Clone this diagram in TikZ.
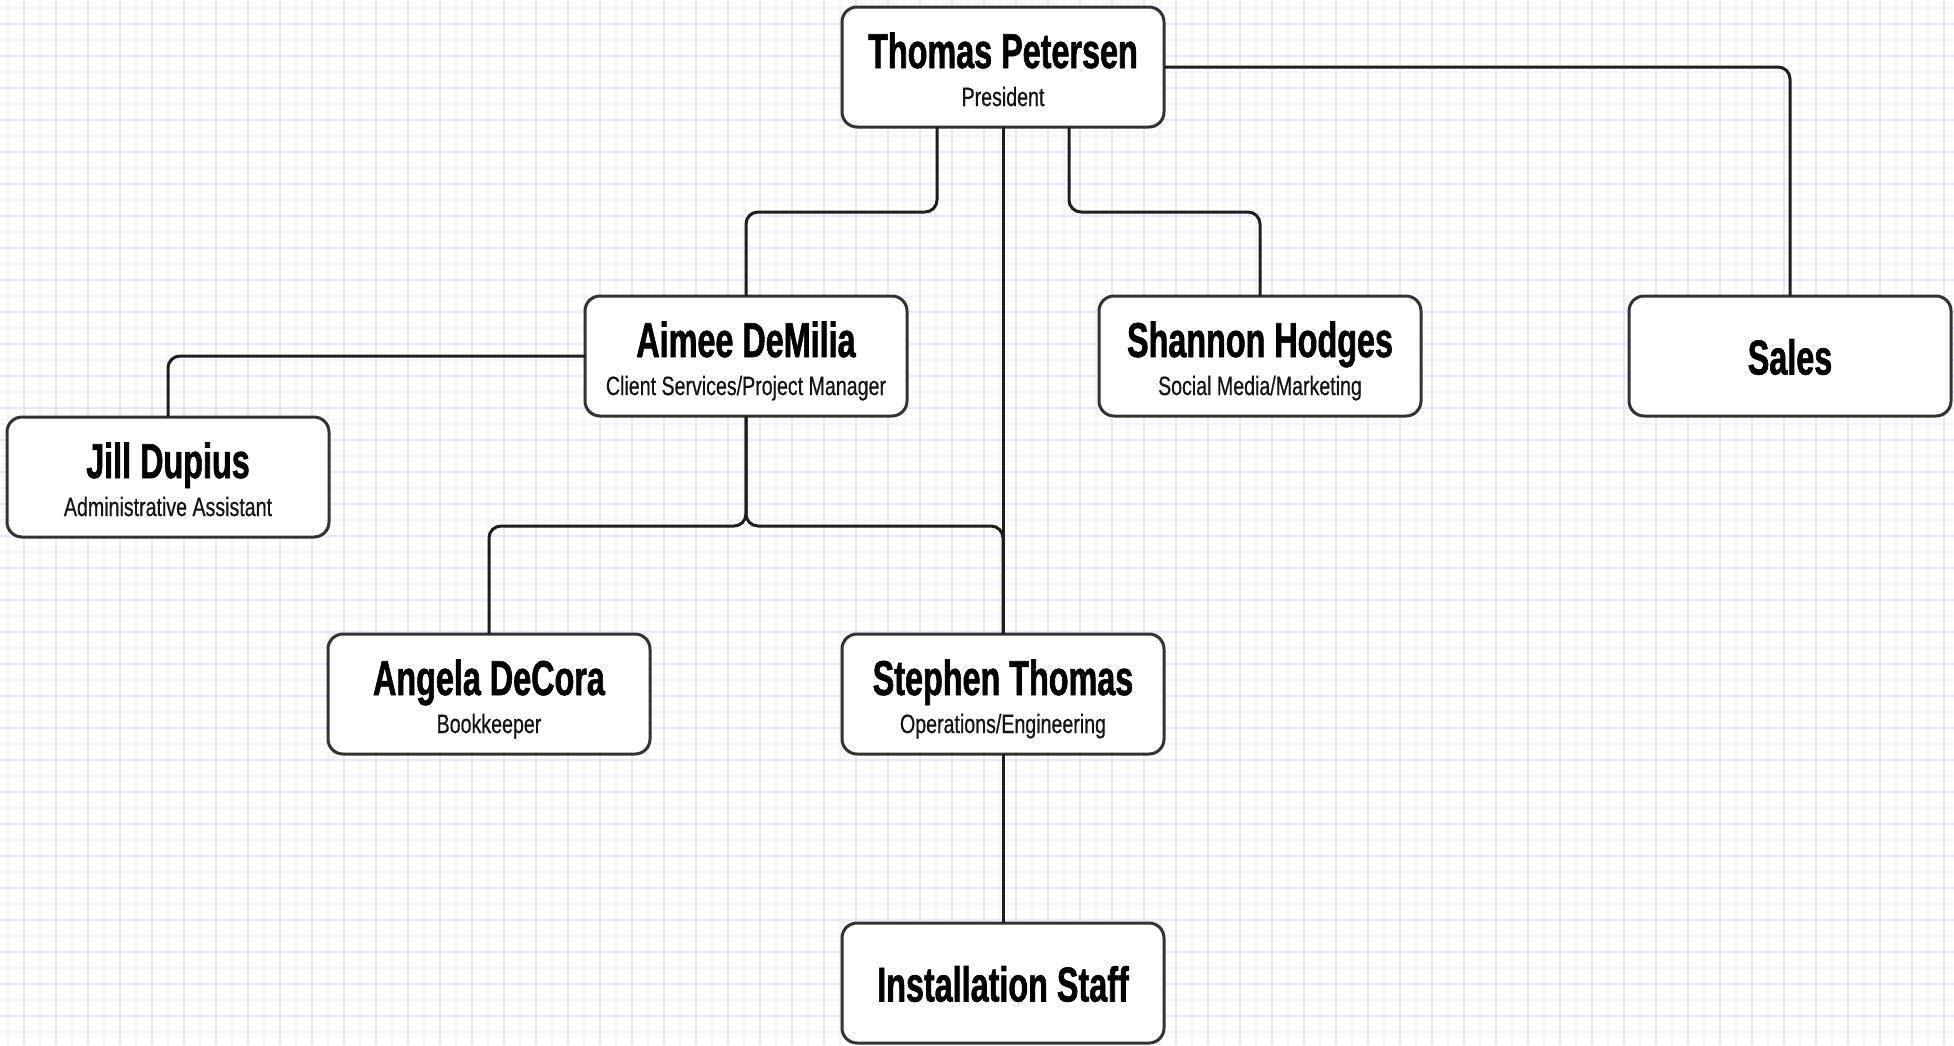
\documentclass[tikz,border=0pt]{standalone}
\usepackage{fontspec}
\newfontfamily\namefont[FakeStretch=0.66,FakeBold=1.2]{Liberation Sans}
\newfontfamily\subfont[FakeStretch=0.74,FakeBold=0.5]{Liberation Sans}
\usetikzlibrary{calc}
\definecolor{gridminor}{HTML}{F2F2FF}
\definecolor{gridmajor}{HTML}{E8E8FD}
\definecolor{boxline}{HTML}{333333}
\definecolor{connline}{HTML}{1E1E1E}
\tikzset{
  person/.style={draw=boxline, line width=3pt, fill=white, rounded corners=15pt,
    minimum width=322pt, minimum height=120pt, inner sep=0pt, outer sep=0pt},
  nametext/.style={anchor=base, inner sep=0pt, font=\namefont\bfseries\fontsize{49}{49}\selectfont},
  roletext/.style={anchor=base, inner sep=0pt, font=\subfont\fontsize{26.5}{26.5}\selectfont, text=black!92},
  conn/.style={draw=connline, line width=3pt, rounded corners=12pt},
}
\begin{document}
\begin{tikzpicture}[x=1pt, y=-1pt]
\useasboundingbox (0,0) rectangle (1954,1045);
\fill[white] (0,0) rectangle (1954,1045);
% grid
\foreach \g in {8,40,...,1954} \draw[gridminor, line width=1.1pt] (\g,0) -- (\g,1045);
\foreach \g in {24,56,...,1954} \draw[gridmajor, line width=1.1pt] (\g,0) -- (\g,1045);
\foreach \g in {8,40,...,1045} \draw[gridminor, line width=1.1pt] (0,\g) -- (1954,\g);
\foreach \g in {24,56,...,1045} \draw[gridmajor, line width=1.1pt] (0,\g) -- (1954,\g);

% boxes
\node[person] (tp)      at (1003,67)  {};
\node[person] (aimee)   at (746,356)  {};
\node[person] (shannon) at (1260,356) {};
\node[person] (sales)   at (1790,356) {};
\node[person] (jill)    at (168,477)  {};
\node[person] (angela)  at (489,694)  {};
\node[person] (stephen) at (1003,694) {};
\node[person] (inst)    at (1003,983) {};

% texts
\node[nametext] (tpN) at ([yshift=-1pt]tp.center) {Thomas Petersen};
\node[roletext] (tpR) at ([yshift=-39pt]tp.center) {President};
\node[nametext] (aimeeN) at ([yshift=-1pt]aimee.center) {Aimee DeMilia};
\node[roletext] (aimeeR) at ([yshift=-39pt]aimee.center) {Client Services/Project Manager};
\node[nametext] (shannonN) at ([yshift=-1pt]shannon.center) {Shannon Hodges};
\node[roletext] (shannonR) at ([yshift=-39pt]shannon.center) {Social Media/Marketing};
\node[nametext] (salesN) at ([yshift=-18.5pt]sales.center) {Sales};
\node[nametext] (jillN) at ([yshift=-1pt]jill.center) {Jill Dupius};
\node[roletext] (jillR) at ([yshift=-39pt]jill.center) {Administrative Assistant};
\node[nametext] (angelaN) at ([yshift=-1pt]angela.center) {Angela DeCora};
\node[roletext] (angelaR) at ([yshift=-39pt]angela.center) {Bookkeeper};
\node[nametext] (stephenN) at ([yshift=-1pt]stephen.center) {Stephen Thomas};
\node[roletext] (stephenR) at ([yshift=-39pt]stephen.center) {Operations/Engineering};
\node[nametext] (instN) at ([yshift=-18.5pt]inst.center) {Installation Staff};

% bus coordinates
\coordinate (busA) at (0,212);
\coordinate (busB) at (0,526);

% connectors
\draw[conn] ([xshift=-66pt]tp.south) |- (busA -| aimee.north) -- (aimee.north);
\draw[conn] ([xshift=66pt]tp.south) |- (busA -| shannon.north) -- (shannon.north);
\draw[conn] (tp.south) -- (stephen.north);
\draw[conn] (tp.east) -| (sales.north);
\draw[conn] (aimee.west) -| (jill.north);
\draw[conn] (aimee.south) |- (busB -| angela.north) -- (angela.north);
\draw[conn] (aimee.south) |- (busB -| stephen.north) -- (stephen.north);
\draw[conn] (stephen.south) -- (inst.north);
\end{tikzpicture}
\end{document}
